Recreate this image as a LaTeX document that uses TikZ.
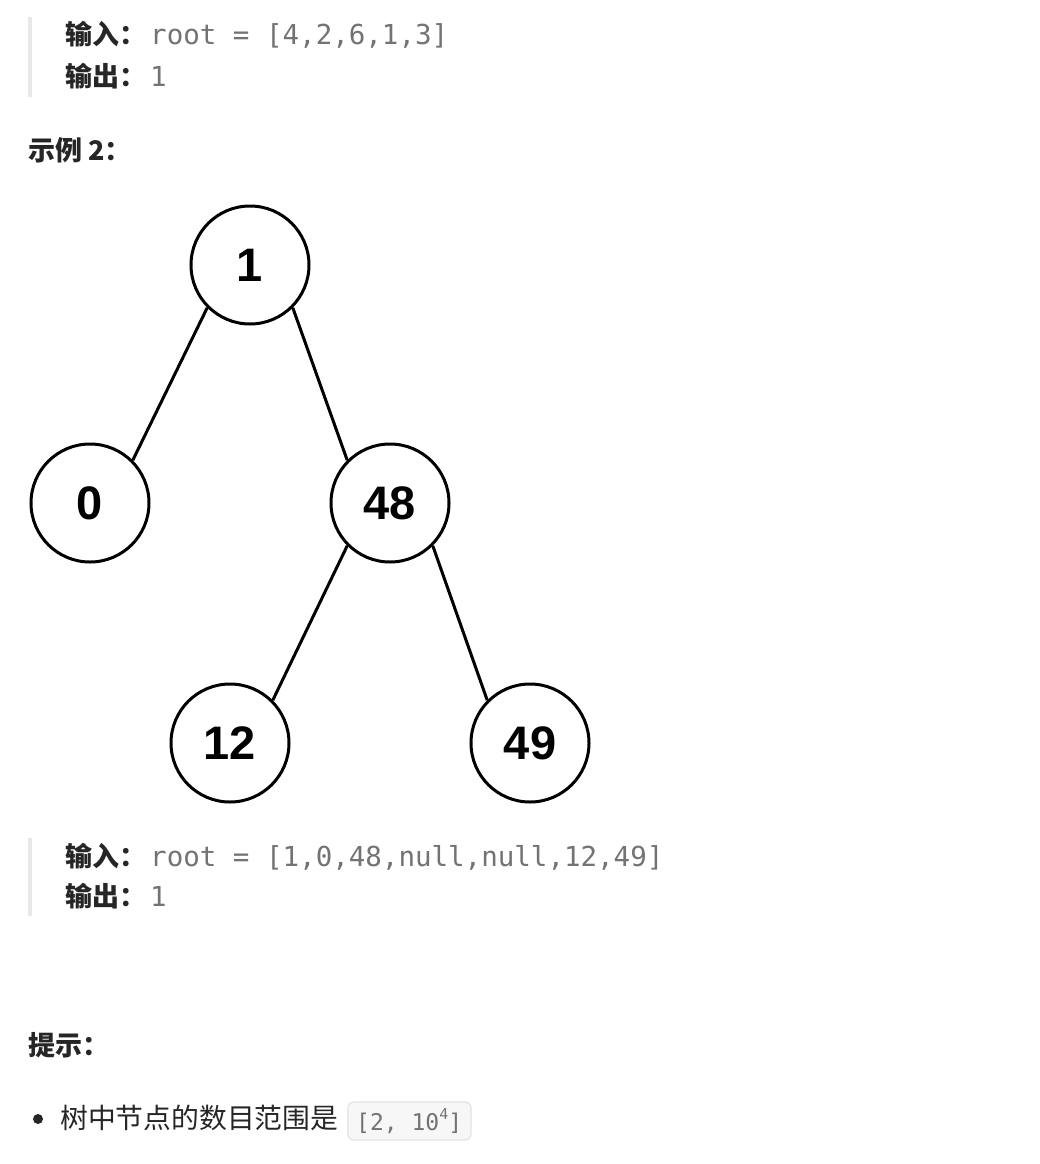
\documentclass[tikz,border=0pt]{standalone}
\usepackage{fontspec}
\newfontfamily\cjk{Noto Sans CJK SC}
\newfontfamily\mono{DejaVu Sans Mono}
\newfontfamily\arialb{Liberation Sans}
\definecolor{lbl}{HTML}{262626}
\definecolor{codegrey}{HTML}{737373}
\definecolor{barc}{HTML}{E8E8E8}
\definecolor{boxfill}{HTML}{F7F7F7}
\definecolor{boxline}{HTML}{E3E3E3}
\tikzset{
  lab/.style={anchor=base west, inner sep=0, text=lbl, font=\cjk\bfseries\fontsize{27}{27}\selectfont},
  code/.style={anchor=base west, inner sep=0, text=codegrey, font=\mono\fontsize{27.5}{27.5}\selectfont},
  body/.style={anchor=base west, inner sep=0, text=lbl, font=\cjk\fontsize{27.8}{27.8}\selectfont},
  tnode/.style={circle, draw=black, line width=3pt, minimum size=118pt, inner sep=0, font=\arialb\bfseries\fontsize{47}{47}\selectfont},
  edge/.style={line width=3pt, draw=black},
  qbar/.style={fill=barc, draw=none}
}
\begin{document}
\begin{tikzpicture}[x=1pt,y=-1pt]
\useasboundingbox (0,0) rectangle (1039,1164);
\fill[white] (0,0) rectangle (1039,1164);
% first quote
\fill[qbar] (28,17) rectangle (32,97);
\node[lab] (in1) at (65,45) {输入：};
\node[code] (c1) at (150,45) {root = [4,2,6,1,3]};
\node[lab] (out1) at (65,86) {输出：};
\node[code] (o1) at (150,86) {1};
\node[lab] (ex2) at (28,160) {示例 2：};
% tree
\begin{scope}
\clip (20,195) rectangle (591,805);
\node[tnode] (n1) at (250,265) {1};
\node[tnode] (n0) at (90,503) {0};
\node[tnode] (n48) at (390,503) {48};
\node[tnode] (n12) at (230,743) {12};
\node[tnode] (n49) at (530,743) {49};
\draw[edge] (n1.-135) -- (n0.45);
\draw[edge] (n1.-45) -- (n48.135);
\draw[edge] (n48.-135) -- (n12.45);
\draw[edge] (n48.-45) -- (n49.135);
\end{scope}
% second quote
\fill[qbar] (28,838) rectangle (32,916);
\node[lab] (in2) at (65,866) {输入：};
\node[code] (c2) at (150,866) {root = [1,0,48,null,null,12,49]};
\node[lab] (out2) at (65,906) {输出：};
\node[code] (o2) at (150,906) {1};
% hints
\node[lab] (hint) at (28,1055) {提示：};
\fill[lbl] (38,1119) circle (5);
\node[body] (b1) at (60,1128) {树中节点的数目范围是};
\draw[boxline, fill=boxfill, line width=1.2pt, rounded corners=6pt] (348,1102) rectangle (471,1140);
\node[anchor=base west, inner sep=0, text=codegrey, font=\mono\fontsize{23}{23}\selectfont] (rng) at (356,1130) {[2, 10\raisebox{0.45em}{\fontsize{15}{15}\selectfont 4}]};
\end{tikzpicture}
\end{document}
